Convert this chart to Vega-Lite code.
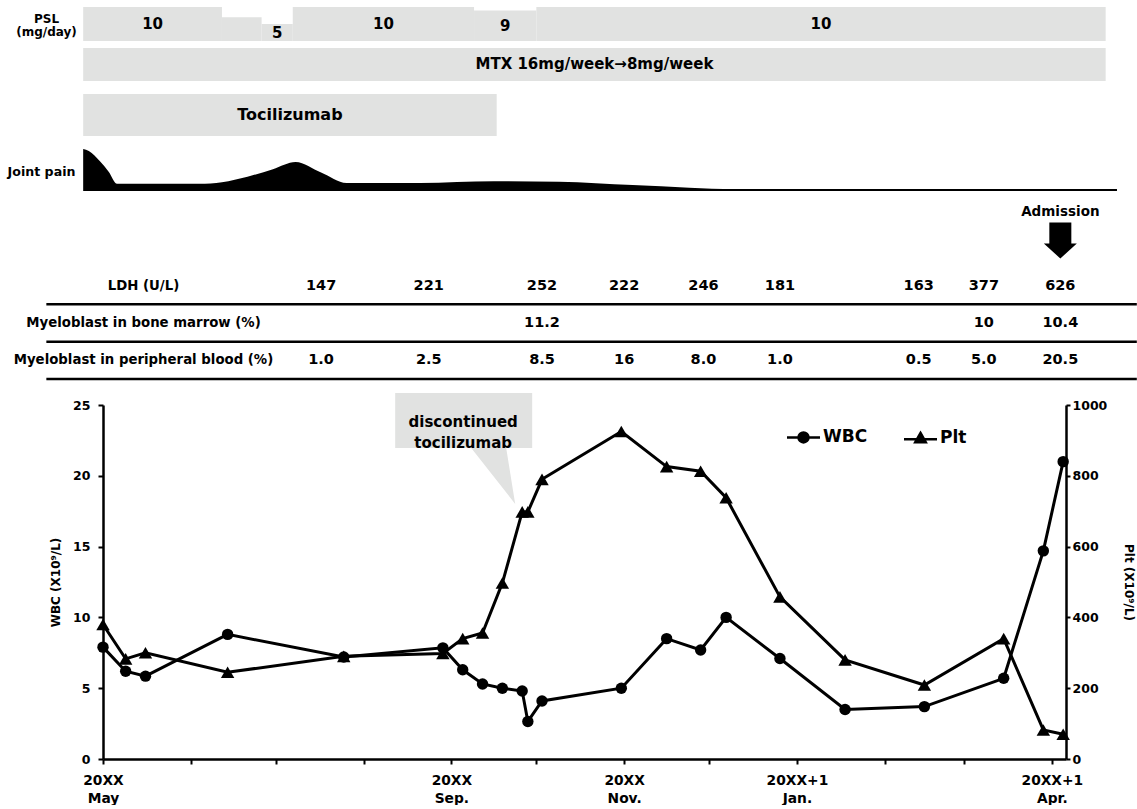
{
  "$schema": "https://vega.github.io/schema/vega-lite/v6.json",
  "background": "white",
  "padding": {"left": 7, "top": 7, "right": 0, "bottom": 0},
  "config": {
    "view": {"stroke": null},
    "font": "DejaVu Sans",
    "text": {"font": "DejaVu Sans", "fontWeight": "bold", "color": "black"},
    "axis": {"labelFont": "DejaVu Sans", "titleFont": "DejaVu Sans", "labelFontWeight": "bold", "titleFontWeight": "bold", "labelColor": "black", "titleColor": "black", "domainColor": "black", "tickColor": "black", "grid": false},
    "legend": {"labelFont": "DejaVu Sans", "labelFontWeight": "bold", "labelColor": "black"}
  },
  "datasets": {
    "regimen": [
      {"drug": "PSL", "start": "2018-04-24", "end": "2018-06-12", "dose": 10, "label": "10"},
      {"drug": "PSL", "start": "2018-06-12", "end": "2018-06-26", "dose": 7, "label": ""},
      {"drug": "PSL", "start": "2018-06-26", "end": "2018-07-07", "dose": 5, "label": "5"},
      {"drug": "PSL", "start": "2018-07-07", "end": "2018-09-09", "dose": 10, "label": "10"},
      {"drug": "PSL", "start": "2018-09-09", "end": "2018-10-01", "dose": 9, "label": "9"},
      {"drug": "PSL", "start": "2018-10-01", "end": "2019-04-20", "dose": 10, "label": "10"},
      {"drug": "MTX", "start": "2018-04-24", "end": "2019-04-20", "label": "MTX 16mg/week→8mg/week"},
      {"drug": "Tocilizumab", "start": "2018-04-24", "end": "2018-09-17", "label": "Tocilizumab"}
    ],
    "jointpain": [
      {"date": "2018-04-24", "severity": 10},
      {"date": "2018-04-26", "severity": 9.5},
      {"date": "2018-04-30", "severity": 7.0},
      {"date": "2018-05-03", "severity": 4.6},
      {"date": "2018-05-06", "severity": 1.7},
      {"date": "2018-06-04", "severity": 1.7},
      {"date": "2018-06-12", "severity": 2.1},
      {"date": "2018-06-21", "severity": 3.4},
      {"date": "2018-06-30", "severity": 5.2},
      {"date": "2018-07-08", "severity": 6.9},
      {"date": "2018-07-17", "severity": 4.4},
      {"date": "2018-07-26", "severity": 1.9},
      {"date": "2018-08-21", "severity": 1.9},
      {"date": "2018-09-16", "severity": 2.3},
      {"date": "2018-10-09", "severity": 2.2},
      {"date": "2018-11-04", "severity": 1.4},
      {"date": "2018-11-24", "severity": 0.8},
      {"date": "2018-12-10", "severity": 0.45},
      {"date": "2019-04-24", "severity": 0.45}
    ],
    "events": [
      {"date": "2019-04-04", "event": "Admission"}
    ],
    "labs": [
      {"date": "2018-07-17", "measure": "LDH (U/L)", "value": "147"},
      {"date": "2018-08-24", "measure": "LDH (U/L)", "value": "221"},
      {"date": "2018-10-03", "measure": "LDH (U/L)", "value": "252"},
      {"date": "2018-11-01", "measure": "LDH (U/L)", "value": "222"},
      {"date": "2018-11-29", "measure": "LDH (U/L)", "value": "246"},
      {"date": "2018-12-26", "measure": "LDH (U/L)", "value": "181"},
      {"date": "2019-02-13", "measure": "LDH (U/L)", "value": "163"},
      {"date": "2019-03-08", "measure": "LDH (U/L)", "value": "377"},
      {"date": "2019-04-04", "measure": "LDH (U/L)", "value": "626"},
      {"date": "2018-10-03", "measure": "Myeloblast in bone marrow (%)", "value": "11.2"},
      {"date": "2019-03-08", "measure": "Myeloblast in bone marrow (%)", "value": "10"},
      {"date": "2019-04-04", "measure": "Myeloblast in bone marrow (%)", "value": "10.4"},
      {"date": "2018-07-17", "measure": "Myeloblast in peripheral blood (%)", "value": "1.0"},
      {"date": "2018-08-24", "measure": "Myeloblast in peripheral blood (%)", "value": "2.5"},
      {"date": "2018-10-03", "measure": "Myeloblast in peripheral blood (%)", "value": "8.5"},
      {"date": "2018-11-01", "measure": "Myeloblast in peripheral blood (%)", "value": "16"},
      {"date": "2018-11-29", "measure": "Myeloblast in peripheral blood (%)", "value": "8.0"},
      {"date": "2018-12-26", "measure": "Myeloblast in peripheral blood (%)", "value": "1.0"},
      {"date": "2019-02-13", "measure": "Myeloblast in peripheral blood (%)", "value": "0.5"},
      {"date": "2019-03-08", "measure": "Myeloblast in peripheral blood (%)", "value": "5.0"},
      {"date": "2019-04-04", "measure": "Myeloblast in peripheral blood (%)", "value": "20.5"}
    ],
    "counts": [
      {"date": "2018-05-01", "series": "WBC", "value": 7.9},
      {"date": "2018-05-09", "series": "WBC", "value": 6.2},
      {"date": "2018-05-16", "series": "WBC", "value": 5.85},
      {"date": "2018-06-14", "series": "WBC", "value": 8.8},
      {"date": "2018-07-25", "series": "WBC", "value": 7.2},
      {"date": "2018-08-29", "series": "WBC", "value": 7.85},
      {"date": "2018-09-05", "series": "WBC", "value": 6.3},
      {"date": "2018-09-12", "series": "WBC", "value": 5.3},
      {"date": "2018-09-19", "series": "WBC", "value": 5.0},
      {"date": "2018-09-26", "series": "WBC", "value": 4.8},
      {"date": "2018-09-28", "series": "WBC", "value": 2.65},
      {"date": "2018-10-03", "series": "WBC", "value": 4.1},
      {"date": "2018-10-31", "series": "WBC", "value": 5.0},
      {"date": "2018-11-16", "series": "WBC", "value": 8.5},
      {"date": "2018-11-28", "series": "WBC", "value": 7.7},
      {"date": "2018-12-07", "series": "WBC", "value": 10.0},
      {"date": "2018-12-26", "series": "WBC", "value": 7.1},
      {"date": "2019-01-18", "series": "WBC", "value": 3.5},
      {"date": "2019-02-15", "series": "WBC", "value": 3.7},
      {"date": "2019-03-15", "series": "WBC", "value": 5.7},
      {"date": "2019-03-29", "series": "WBC", "value": 14.7},
      {"date": "2019-04-05", "series": "WBC", "value": 21.0},
      {"date": "2018-05-01", "series": "Plt", "value": 380},
      {"date": "2018-05-09", "series": "Plt", "value": 283},
      {"date": "2018-05-16", "series": "Plt", "value": 300},
      {"date": "2018-06-14", "series": "Plt", "value": 245},
      {"date": "2018-07-25", "series": "Plt", "value": 290},
      {"date": "2018-08-29", "series": "Plt", "value": 298},
      {"date": "2018-09-05", "series": "Plt", "value": 340},
      {"date": "2018-09-12", "series": "Plt", "value": 356},
      {"date": "2018-09-19", "series": "Plt", "value": 497},
      {"date": "2018-09-26", "series": "Plt", "value": 698, "note": "discontinued\ntocilizumab"},
      {"date": "2018-09-28", "series": "Plt", "value": 698},
      {"date": "2018-10-03", "series": "Plt", "value": 790},
      {"date": "2018-10-31", "series": "Plt", "value": 925},
      {"date": "2018-11-16", "series": "Plt", "value": 826},
      {"date": "2018-11-28", "series": "Plt", "value": 813},
      {"date": "2018-12-07", "series": "Plt", "value": 738},
      {"date": "2018-12-26", "series": "Plt", "value": 458},
      {"date": "2019-01-18", "series": "Plt", "value": 280},
      {"date": "2019-02-15", "series": "Plt", "value": 209},
      {"date": "2019-03-15", "series": "Plt", "value": 340},
      {"date": "2019-03-29", "series": "Plt", "value": 82},
      {"date": "2019-04-05", "series": "Plt", "value": 70}
    ]
  },
  "vconcat": [
    {
      "width": 963, "height": 34,
      "data": {"name": "regimen", "format": {"parse": {"start": "date", "end": "date"}}},
      "transform": [{"filter": "datum.drug == 'PSL'"}],
      "layer": [
        {
          "mark": {"type": "rect", "color": "#e1e2e1"},
          "encoding": {
            "x": {"field": "start", "type": "temporal", "scale": {"type": "utc", "nice": false, "domain": [{"year": 2018, "month": 5, "date": 1, "utc": true}, {"year": 2019, "month": 4, "date": 6, "utc": true}]}, "axis": null},
            "x2": {"field": "end"},
            "y": {"field": "dose", "type": "quantitative", "scale": {"domain": [0, 10], "nice": false}, "axis": {"title": ["PSL", "(mg/day)"], "domain": false, "ticks": false, "labels": false, "grid": false, "titleAngle": 0, "titleAlign": "center", "titleBaseline": "top", "titleX": -57, "titleY": 6, "titleFontSize": 12, "titleLineHeight": 13}},
            "y2": {"datum": 0}
          }
        },
        {
          "transform": [
            {"filter": "datum.label != ''"},
            {"fold": ["start", "end"], "as": ["edge", "when"]},
            {"aggregate": [{"op": "mean", "field": "when", "as": "mid"}], "groupby": ["label", "dose", "start"]}
          ],
          "mark": {"type": "text", "fontSize": 15, "baseline": "middle"},
          "encoding": {
            "x": {"field": "mid", "type": "temporal", "scale": {"type": "utc", "nice": false, "domain": [{"year": 2018, "month": 5, "date": 1, "utc": true}, {"year": 2019, "month": 4, "date": 6, "utc": true}]}, "axis": null},
            "y": {"field": "dose", "type": "quantitative", "scale": {"domain": [0, 20], "nice": false}, "axis": null},
            "text": {"field": "label"}
          }
        }
      ],
      "resolve": {"scale": {"y": "independent"}}
    },
    {
      "width": 963, "height": 40,
      "data": {"name": "regimen", "format": {"parse": {"start": "date", "end": "date"}}},
      "transform": [{"filter": "datum.drug == 'MTX'"}],
      "encoding": {
        "y": {"field": "drug", "type": "nominal", "scale": {"type": "band", "paddingInner": 0, "paddingOuter": 0.106, "align": 1}, "axis": null}
      },
      "layer": [
        {
          "mark": {"type": "rect", "color": "#e1e2e1"},
          "encoding": {
            "x": {"field": "start", "type": "temporal", "scale": {"type": "utc", "nice": false, "domain": [{"year": 2018, "month": 5, "date": 1, "utc": true}, {"year": 2019, "month": 4, "date": 6, "utc": true}]}, "axis": null},
            "x2": {"field": "end"}
          }
        },
        {
          "transform": [
            {"fold": ["start", "end"], "as": ["edge", "when"]},
            {"aggregate": [{"op": "mean", "field": "when", "as": "mid"}], "groupby": ["label", "drug"]}
          ],
          "mark": {"type": "text", "fontSize": 15, "baseline": "middle"},
          "encoding": {
            "x": {"field": "mid", "type": "temporal", "scale": {"type": "utc", "nice": false, "domain": [{"year": 2018, "month": 5, "date": 1, "utc": true}, {"year": 2019, "month": 4, "date": 6, "utc": true}]}, "axis": null},
            "text": {"field": "label"}
          }
        }
      ]
    },
    {
      "width": 963, "height": 55,
      "data": {"name": "regimen", "format": {"parse": {"start": "date", "end": "date"}}},
      "transform": [{"filter": "datum.drug == 'Tocilizumab'"}],
      "encoding": {
        "y": {"field": "drug", "type": "nominal", "scale": {"type": "band", "paddingInner": 0, "paddingOuter": 0.1548, "align": 1}, "axis": null}
      },
      "layer": [
        {
          "mark": {"type": "rect", "color": "#e1e2e1"},
          "encoding": {
            "x": {"field": "start", "type": "temporal", "scale": {"type": "utc", "nice": false, "domain": [{"year": 2018, "month": 5, "date": 1, "utc": true}, {"year": 2019, "month": 4, "date": 6, "utc": true}]}, "axis": null},
            "x2": {"field": "end"}
          }
        },
        {
          "transform": [
            {"fold": ["start", "end"], "as": ["edge", "when"]},
            {"aggregate": [{"op": "mean", "field": "when", "as": "mid"}], "groupby": ["label", "drug"]}
          ],
          "mark": {"type": "text", "fontSize": 16, "baseline": "middle"},
          "encoding": {
            "x": {"field": "mid", "type": "temporal", "scale": {"type": "utc", "nice": false, "domain": [{"year": 2018, "month": 5, "date": 1, "utc": true}, {"year": 2019, "month": 4, "date": 6, "utc": true}]}, "axis": null},
            "text": {"field": "label"}
          }
        }
      ]
    },
    {
      "width": 963, "height": 55,
      "data": {"name": "jointpain"},
      "mark": {"type": "area", "color": "black", "interpolate": "monotone", "opacity": 1},
      "encoding": {
        "x": {"field": "date", "type": "temporal", "scale": {"type": "utc", "nice": false, "domain": [{"year": 2018, "month": 5, "date": 1, "utc": true}, {"year": 2019, "month": 4, "date": 6, "utc": true}]}, "axis": null},
        "y": {"field": "severity", "type": "quantitative", "scale": {"domain": [0, 13.1], "nice": false}, "axis": {"title": "Joint pain", "domain": false, "ticks": false, "labels": false, "grid": false, "titleAngle": 0, "titleAlign": "center", "titleBaseline": "middle", "titleX": -62, "titleY": 35, "titleFontSize": 12.6}}
      }
    },
    {
      "width": 963, "height": 67,
      "data": {"name": "events"},
      "layer": [
        {
          "mark": {"type": "text", "fontSize": 13.5, "baseline": "middle", "dy": -12.5},
          "encoding": {
            "x": {"field": "date", "type": "temporal", "scale": {"type": "utc", "nice": false, "domain": [{"year": 2018, "month": 5, "date": 1, "utc": true}, {"year": 2019, "month": 4, "date": 6, "utc": true}]}, "axis": null},
            "text": {"field": "event"}
          }
        },
        {
          "mark": {"type": "point", "shape": "M-11,-18L11,-18L11,3L16.5,3L0,18L-16.5,3L-11,3Z", "size": 4, "filled": true, "color": "black", "opacity": 1, "yOffset": 16},
          "encoding": {
            "x": {"field": "date", "type": "temporal", "scale": {"type": "utc", "nice": false, "domain": [{"year": 2018, "month": 5, "date": 1, "utc": true}, {"year": 2019, "month": 4, "date": 6, "utc": true}]}, "axis": null}
          }
        }
      ]
    },
    {
      "width": 963, "height": 147,
      "data": {"name": "labs"},
      "layer": [
        {
          "transform": [{"aggregate": [{"op": "count", "as": "n"}], "groupby": ["measure"]}],
          "mark": {"type": "rule", "strokeWidth": 2.5, "color": "black"},
          "encoding": {
            "y": {"field": "measure", "type": "nominal", "bandPosition": 1, "scale": {"type": "band", "domain": ["LDH (U/L)", "Myeloblast in bone marrow (%)", "Myeloblast in peripheral blood (%)"], "paddingInner": 0, "paddingOuter": 0.4688, "align": 0.257}, "axis": {"title": null, "domain": false, "ticks": false, "tickSize": 0, "labelAlign": "center", "labelBaseline": "middle", "labelPadding": -40, "labelFontSize": 13.3, "labelLimit": 400}},
            "x": {"datum": {"year": 2018, "month": 4, "date": 11, "utc": true}, "type": "temporal", "scale": {"type": "utc", "nice": false, "domain": [{"year": 2018, "month": 5, "date": 1, "utc": true}, {"year": 2019, "month": 4, "date": 6, "utc": true}]}, "axis": null},
            "x2": {"datum": {"year": 2019, "month": 5, "date": 1, "utc": true}}
          }
        },
        {
          "mark": {"type": "text", "fontSize": 14.5, "baseline": "middle"},
          "encoding": {
            "y": {"field": "measure", "type": "nominal", "scale": {"type": "band", "domain": ["LDH (U/L)", "Myeloblast in bone marrow (%)", "Myeloblast in peripheral blood (%)"], "paddingInner": 0, "paddingOuter": 0.4688, "align": 0.257}, "axis": {"title": null, "domain": false, "ticks": false, "tickSize": 0, "labelAlign": "center", "labelBaseline": "middle", "labelPadding": -40, "labelFontSize": 13.3, "labelLimit": 400}},
            "x": {"field": "date", "type": "temporal", "scale": {"type": "utc", "nice": false, "domain": [{"year": 2018, "month": 5, "date": 1, "utc": true}, {"year": 2019, "month": 4, "date": 6, "utc": true}]}, "axis": null},
            "text": {"field": "value"}
          }
        }
      ]
    },
    {
      "width": 963, "height": 354,
      "data": {"name": "counts"},
      "layer": [
        {
          "transform": [{"filter": "datum.series == 'WBC'"}],
          "encoding": {
            "x": {"field": "date", "type": "temporal", "scale": {"type": "utc", "nice": false, "domain": [{"year": 2018, "month": 5, "date": 1, "utc": true}, {"year": 2019, "month": 4, "date": 6, "utc": true}]}, "axis": {"title": null, "tickCount": {"interval": "month", "step": 1}, "labelExpr": "utcmonth(datum.value) == 4 ? ['20XX', 'May'] : utcmonth(datum.value) == 8 ? ['20XX', 'Sep.'] : utcmonth(datum.value) == 10 ? ['20XX', 'Nov.'] : utcmonth(datum.value) == 0 ? ['20XX+1', 'Jan.'] : utcmonth(datum.value) == 3 ? ['20XX+1', 'Apr.'] : ''", "labelOverlap": false, "labelFlush": false, "labelBound": false, "labelFontSize": 13.8, "labelLineHeight": 18, "labelPadding": 9, "labelBaseline": "top", "tickSize": 5, "tickWidth": 2, "domainWidth": 2.5}},
            "y": {"field": "value", "type": "quantitative", "scale": {"domain": [0, 25], "nice": false}, "axis": {"title": "WBC (X10⁹/L)", "values": [0, 5, 10, 15, 20, 25], "domainWidth": 2.5, "tickWidth": 2, "tickSize": 5, "labelPadding": 8, "titlePadding": 10, "labelFontSize": 12.5, "titleFontSize": 12}}
          },
          "layer": [
            {"mark": {"type": "line", "color": "black", "strokeWidth": 3}},
            {"mark": {"type": "point", "shape": "circle", "filled": true, "color": "black", "opacity": 1, "size": 130}},
            {
              "mark": {"type": "point", "filled": false, "color": "black", "strokeWidth": 2.5, "opacity": 1, "size": 0},
              "encoding": {
                "shape": {"field": "series", "type": "nominal", "scale": {"domain": ["WBC", "Plt"], "range": ["M-3.3,0L3.3,0M1,0A1,1,0,1,1,-1,0A1,1,0,1,1,1,0M-0.87,-0.5L0.87,-0.5M-0.87,0.5L0.87,0.5", "M-3.3,0.3L3.3,0.3M0,-0.95L1.05,0.9L-1.05,0.9ZM-0.25,-0.5L0.25,-0.5M-0.54,0L0.54,0M-0.79,0.45L0.79,0.45"]}, "legend": {"orient": "none", "legendX": 692, "legendY": 421.7, "direction": "horizontal", "title": null, "symbolSize": 100, "symbolStrokeWidth": 2.5, "symbolStrokeColor": "black", "symbolOpacity": 1, "labelFontSize": 17, "labelOffset": 11, "columnPadding": 31, "padding": 0}}
              }
            }
          ]
        },
        {
          "transform": [{"filter": "datum.series == 'Plt'"}],
          "encoding": {
            "x": {"field": "date", "type": "temporal", "scale": {"type": "utc", "nice": false, "domain": [{"year": 2018, "month": 5, "date": 1, "utc": true}, {"year": 2019, "month": 4, "date": 6, "utc": true}]}, "axis": {"title": null, "tickCount": {"interval": "month", "step": 1}, "labelExpr": "utcmonth(datum.value) == 4 ? ['20XX', 'May'] : utcmonth(datum.value) == 8 ? ['20XX', 'Sep.'] : utcmonth(datum.value) == 10 ? ['20XX', 'Nov.'] : utcmonth(datum.value) == 0 ? ['20XX+1', 'Jan.'] : utcmonth(datum.value) == 3 ? ['20XX+1', 'Apr.'] : ''", "labelOverlap": false, "labelFlush": false, "labelBound": false, "labelFontSize": 13.8, "labelLineHeight": 18, "labelPadding": 9, "labelBaseline": "top", "tickSize": 5, "tickWidth": 2, "domainWidth": 2.5}},
            "y": {"field": "value", "type": "quantitative", "scale": {"domain": [0, 1000], "nice": false}, "axis": {"orient": "right", "title": "Plt (X10⁹/L)", "format": "d", "values": [0, 200, 400, 600, 800, 1000], "domainWidth": 2.5, "tickWidth": 2, "tickSize": 4, "labelPadding": 2, "titlePadding": 15, "labelFontSize": 12.5, "titleFontSize": 12}}
          },
          "layer": [
            {
              "transform": [{"filter": "isValid(datum.note)"}],
              "mark": {"type": "point", "shape": "M-127,-119L10,-119L10,-64L-16,-64L-7,-8L-51,-64L-127,-64Z", "size": 4, "filled": true, "color": "#e1e2e1", "opacity": 1}
            },
            {
              "transform": [{"filter": "isValid(datum.note)"}],
              "mark": {"type": "text", "lineBreak": "\n", "fontSize": 15, "lineHeight": 21.5, "baseline": "middle", "dx": -59, "dy": -90},
              "encoding": {"text": {"field": "note"}}
            },
            {"mark": {"type": "line", "color": "black", "strokeWidth": 3}},
            {"mark": {"type": "point", "shape": "triangle-up", "filled": true, "color": "black", "opacity": 1, "size": 180}}
          ]
        }
      ],
      "resolve": {"scale": {"y": "independent"}}
    }
  ],
  "spacing": 0,
  "bounds": "flush"
}
